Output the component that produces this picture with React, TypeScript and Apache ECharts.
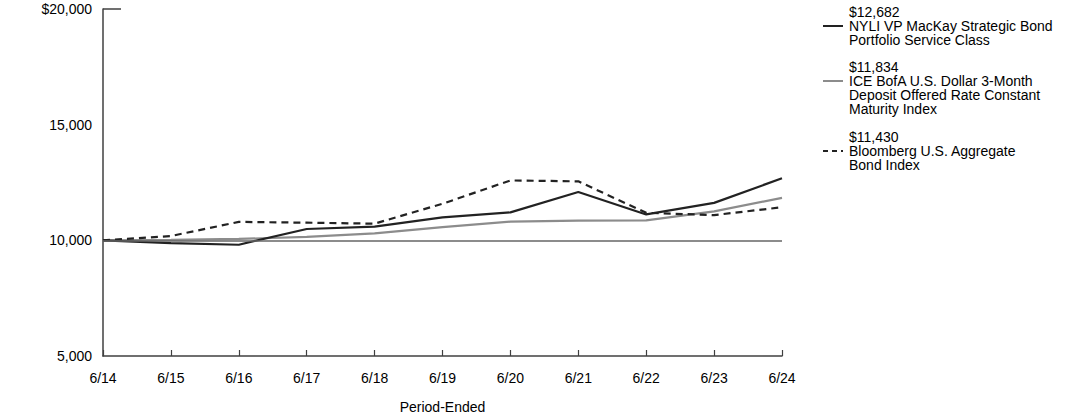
import React, { useEffect, useRef } from "react";
import * as echarts from "echarts";

const categories = ["6/14", "6/15", "6/16", "6/17", "6/18", "6/19", "6/20", "6/21", "6/22", "6/23", "6/24"];
const fundValues = [10000, 9880, 9810, 10490, 10590, 10990, 11210, 12090, 11120, 11620, 12682];
const iceValues = [10000, 10020, 10060, 10150, 10300, 10570, 10810, 10850, 10860, 11250, 11834];
const aggValues = [10000, 10186, 10797, 10763, 10720, 11580, 12590, 12550, 11190, 11090, 11430];

const legendGroups = [
  { lines: ["$12,682", "NYLI VP MacKay Strategic Bond", "Portfolio Service Class"], color: "#222222", dash: false, top: 12 },
  { lines: ["$11,834", "ICE BofA U.S. Dollar 3-Month", "Deposit Offered Rate Constant", "Maturity Index"], color: "#8c8c8c", dash: false, top: 67 },
  { lines: ["$11,430", "Bloomberg U.S. Aggregate", "Bond Index"], color: "#222222", dash: true, top: 137 },
];

const FONT = "Liberation Sans, Arial, sans-serif";
const FS = 14;

export default function App() {
  const ref = useRef<HTMLDivElement>(null);
  useEffect(() => {
    if (!ref.current) return;
    const chart = echarts.init(ref.current, null, { renderer: "svg" });
    const graphics: any[] = [
      { type: "line", shape: { x1: 103, y1: 9, x2: 121, y2: 9 }, style: { stroke: "#404040", lineWidth: 1.5 } },
    ];
    legendGroups.forEach((g) => {
      graphics.push({
        type: "line",
        shape: { x1: 823, y1: g.top + 14, x2: 843, y2: g.top + 14 },
        style: { stroke: g.color, lineWidth: 2, lineDash: g.dash ? [5, 4] : null },
      });
      g.lines.forEach((t, i) => {
        graphics.push({
          type: "text",
          x: 849,
          y: g.top + i * 14,
          style: { text: t, fill: "#000", font: `${FS}px ${FONT}`, textVerticalAlign: "middle", textAlign: "left" },
        });
      });
    });
    chart.setOption({
      animation: false,
      grid: { left: 103, right: 310, top: 9, bottom: 61, containLabel: false, outerBoundsMode: "none" },
      xAxis: {
        type: "category",
        data: categories,
        boundaryGap: false,
        name: "Period-Ended",
        nameLocation: "middle",
        nameGap: 44,
        nameTextStyle: { color: "#000", fontFamily: FONT, fontSize: FS },
        axisLine: { lineStyle: { color: "#404040", width: 1.5 } },
        axisTick: { show: true, inside: true, length: 6, interval: 0, lineStyle: { color: "#404040", width: 1.2 } },
        axisLabel: { color: "#000", fontFamily: FONT, fontSize: FS, margin: 15, interval: 0 },
        splitLine: { show: false },
      },
      yAxis: {
        type: "value",
        min: 5000,
        max: 20000,
        interval: 5000,
        axisLine: { show: true, lineStyle: { color: "#404040", width: 1.5 } },
        axisTick: { show: false },
        splitLine: { show: false },
        axisLabel: {
          color: "#000",
          fontFamily: FONT,
          fontSize: FS,
          margin: 11,
          formatter: (v: number) => {
            const s = v.toLocaleString("en-US");
            return v === 20000 ? "$" + s : s;
          },
        },
      },
      series: [
        {
          type: "line",
          data: fundValues,
          symbol: "none",
          lineStyle: { color: "#222222", width: 2.2 },
          z: 4,
          markLine: {
            silent: true,
            symbol: ["none", "none"],
            label: { show: false },
            lineStyle: { color: "#666666", width: 1.5, type: "solid" },
            data: [{ yAxis: 10000 }],
          },
        },
        { type: "line", data: iceValues, symbol: "none", lineStyle: { color: "#8c8c8c", width: 2.2 }, z: 3 },
        { type: "line", data: aggValues, symbol: "none", lineStyle: { color: "#222222", width: 2.2, type: [7, 5] }, z: 3 },
      ],
      graphic: graphics,
    });
    return () => chart.dispose();
  }, []);
  return <div ref={ref} style={{ width: 1092, height: 417, position: "absolute", left: 0, top: 0 }} />;
}
